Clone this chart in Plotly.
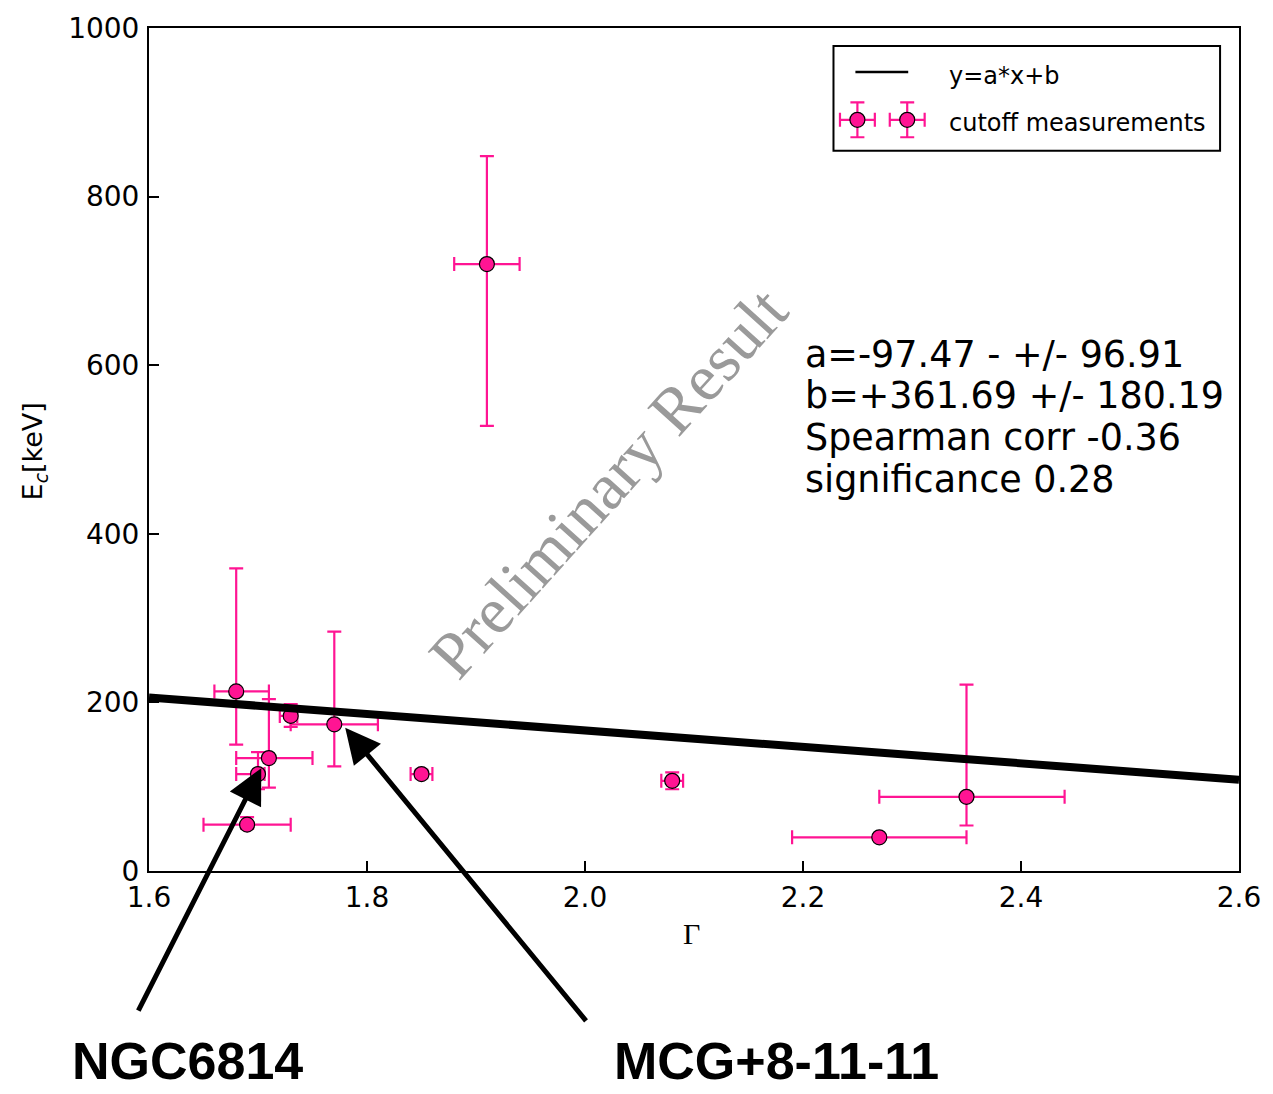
import plotly.graph_objects as go

# ---- data -------------------------------------------------------------
gamma = [1.68, 1.73, 1.77, 1.71, 1.70, 1.69, 1.85, 2.08, 2.35, 2.27, 1.91]
ecut = [213, 184, 174, 134, 115, 55, 115, 107, 88, 40, 720]
gamma_err_lo = [0.02, 0.01, 0.04, 0.03, 0.02, 0.04, 0.01, 0.01, 0.08, 0.08, 0.03]
gamma_err_hi = [0.03, 0.006, 0.04, 0.04, 0.006, 0.04, 0.01, 0.01, 0.09, 0.08, 0.03]
ecut_err_hi = [146, 14, 110, 70, 26, 9, 5, 10, 133, 3, 128]
ecut_err_lo = [63, 13, 50, 35, 18, 5, 5, 10, 34, 3, 192]

# linear fit y = a*x + b
fit_a = -97.47
fit_a_err = 96.91
fit_b = 361.69
fit_b_err = 180.19
spearman_corr = -0.36
significance = 0.28
fit_x = [1.6, 2.6]
fit_y = [fit_a * x + fit_b for x in fit_x]

x_ticks = [1.6, 1.8, 2.0, 2.2, 2.4, 2.6]
y_ticks = [0, 200, 400, 600, 800, 1000]

# ---- layout geometry (pixels) ----------------------------------------
W, H = 1273, 1094
PL, PR, PT, PB = 149, 1243, 26, 871  # plot area edges


def px(xp):
    return (xp - PL) / (PR - PL)


def py(yp):
    return (PB - yp) / (PB - PT)


PINK = "#ff1493"
FONT = "DejaVu Sans"

fig = go.Figure()

# measurements with asymmetric error bars
fig.add_trace(go.Scatter(
    x=gamma, y=ecut, mode="markers",
    marker=dict(size=15, color=PINK, line=dict(color="black", width=1.2)),
    error_x=dict(type="data", symmetric=False, array=gamma_err_hi,
                 arrayminus=gamma_err_lo, color=PINK, thickness=2.2, width=7),
    error_y=dict(type="data", symmetric=False, array=ecut_err_hi,
                 arrayminus=ecut_err_lo, color=PINK, thickness=2.2, width=7),
    showlegend=False, cliponaxis=False,
))

# fitted line
fig.add_trace(go.Scatter(
    x=fit_x, y=fit_y, mode="lines",
    line=dict(color="black", width=8), showlegend=False,
))

# legend glyphs drawn on a small overlay axis in pixel units
LG_X0, LG_X1, LG_Y0, LG_Y1 = 836, 1224, 44, 149
legend_marker_x = [860, 910]
legend_marker_y = [118, 118]
fig.add_trace(go.Scatter(
    x=legend_marker_x, y=legend_marker_y, mode="markers",
    marker=dict(size=15, color=PINK, line=dict(color="black", width=1.2)),
    error_x=dict(type="constant", value=17.5, color=PINK, thickness=2.2, width=7),
    error_y=dict(type="constant", value=17.5, color=PINK, thickness=2.2, width=7),
    xaxis="x2", yaxis="y2", showlegend=False,
))
fig.add_trace(go.Scatter(
    x=[858, 911], y=[70, 70], mode="lines",
    line=dict(color="black", width=2.5),
    xaxis="x2", yaxis="y2", showlegend=False,
))

axis_common = dict(
    showline=True, linecolor="black", linewidth=2, mirror=True,
    ticks="inside", ticklen=10, tickwidth=1.5, tickcolor="black",
    showgrid=False, zeroline=False,
    tickfont=dict(family=FONT, size=28, color="black"),
)

fig.update_layout(
    width=W, height=H,
    margin=dict(l=PL, r=W - PR, t=PT, b=H - PB),
    paper_bgcolor="white", plot_bgcolor="white",
    font=dict(family=FONT, color="black"),
    xaxis=dict(range=[1.6, 2.6], tickvals=x_ticks,
               ticktext=[f"{v:.1f}" for v in x_ticks],
               ticklabelstandoff=0, **axis_common),
    yaxis=dict(range=[0, 1000], tickvals=y_ticks,
               ticktext=[str(v) for v in y_ticks],
               ticklabelstandoff=2, **axis_common),
    xaxis2=dict(domain=[px(LG_X0), px(LG_X1)], range=[LG_X0, LG_X1],
                visible=False, anchor="y2", fixedrange=True),
    yaxis2=dict(domain=[py(LG_Y1), py(LG_Y0)], range=[LG_Y1, LG_Y0],
                visible=False, anchor="x2", fixedrange=True),
    showlegend=False,
)

# legend frame
fig.add_shape(type="rect", xref="paper", yref="paper",
              x0=px(LG_X0), x1=px(LG_X1), y0=py(LG_Y1), y1=py(LG_Y0),
              line=dict(color="black", width=2), fillcolor="rgba(0,0,0,0)")

annotations = []


def text(x, y, s, size, **kw):
    d = dict(x=px(x), y=py(y), xref="paper", yref="paper", text=s,
             showarrow=False, font=dict(family=kw.pop("family", FONT),
                                        size=size, color=kw.pop("color", "black")))
    d.update(kw)
    annotations.append(d)


text(950, 74, "y=a*x+b", 24, xanchor="left", yanchor="middle")
text(950, 121, "cutoff measurements", 24, xanchor="left", yanchor="middle")

# fit statistics
stats_lines = [
    f"a={fit_a:.2f} - +/- {fit_a_err:.2f}",
    f"b=+{fit_b:.2f} +/- {fit_b_err:.2f}",
    f"Spearman corr {spearman_corr:.2f}",
    f"significance {significance:.2f}",
]
for i, line in enumerate(stats_lines):
    text(805, 353 + i * 41.7, line, 36.5, xanchor="left", yanchor="middle")

# axis titles
text(693, 934, "Γ", 30, family="Liberation Serif", xanchor="center", yanchor="middle")
text(35, 450, "E<sub><i>c</i></sub>[keV]", 27, xanchor="center",
     yanchor="middle", textangle=-90)

# watermark
text(610, 482, "Preliminary Result", 66, family="Liberation Serif",
     color="#9a9a9a", xanchor="center", yanchor="middle", textangle=-48)

# source labels with arrows
text(188, 1093, "<b>NGC6814</b>", 52, family="Liberation Sans",
     xanchor="center", yanchor="bottom")
text(779, 1093, "<b>MCG+8-11-11</b>", 52, family="Liberation Sans",
     xanchor="center", yanchor="bottom")

arrow_tips = [(1.703, 122, 138, 1012), (1.780, 170, 588, 1022)]
for gx, ey, tail_x, tail_y in arrow_tips:
    tip_px = PL + (gx - 1.6) / 1.0 * (PR - PL)
    tip_py = PB - ey / 1000 * (PB - PT)
    annotations.append(dict(
        x=gx, y=ey, xref="x", yref="y", text="", showarrow=True,
        ax=tail_x - tip_px, ay=tail_y - tip_py, axref="pixel", ayref="pixel",
        arrowhead=2, arrowsize=1.4, arrowwidth=5, arrowcolor="black",
        standoff=0, startstandoff=0,
    ))

fig.update_layout(annotations=annotations)

fig.write_html("out.html")
